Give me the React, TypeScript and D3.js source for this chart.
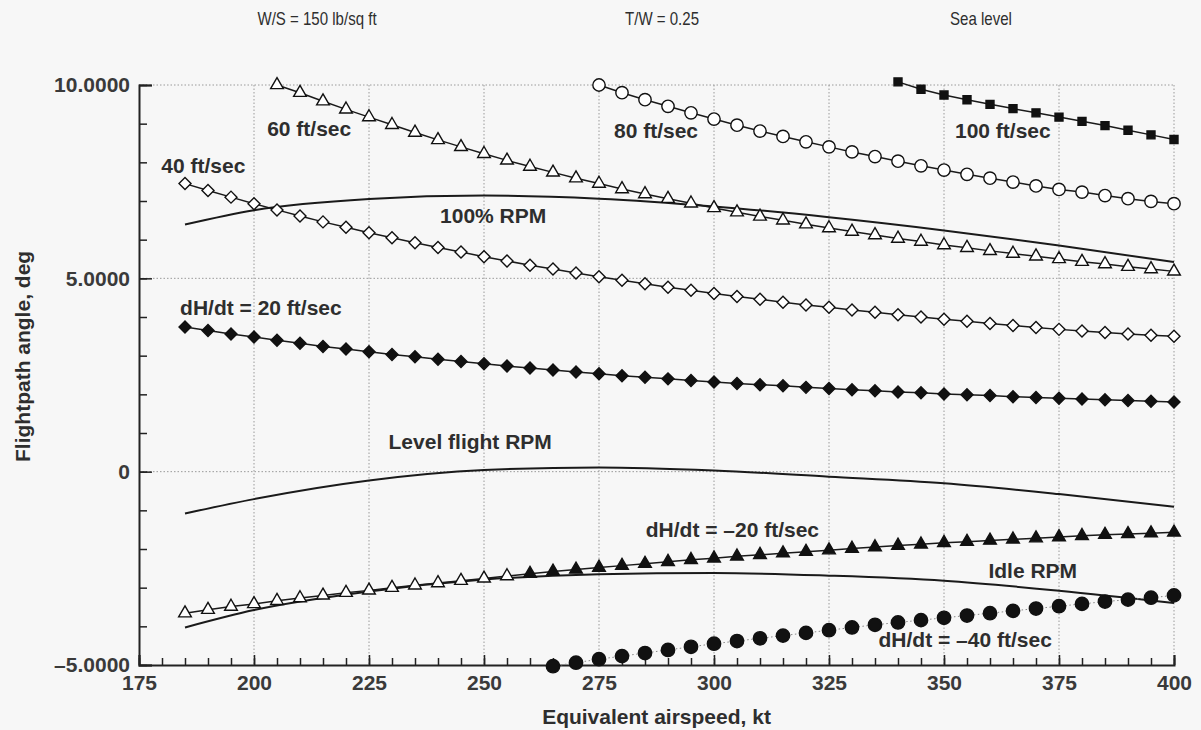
import React, { useEffect, useRef } from "react";
import * as d3 from "d3";

// flightpath angle (deg), one value every 5 kt
const climb100 = [10.08, 9.89, 9.74, 9.62, 9.5, 9.39, 9.28, 9.17, 9.06, 8.95, 8.83, 8.71, 8.59]; // 340..400
const climb80 = [
  10.0, 9.8, 9.62, 9.45, 9.28, 9.12, 8.96, 8.81, 8.67, 8.53, 8.4, 8.27, 8.15, 8.03, 7.91, 7.8, 7.69, 7.59,
  7.49, 7.39, 7.3, 7.23, 7.14, 7.06, 6.99, 6.93,
]; // 275..400
const climb60 = [
  10.0, 9.8, 9.58, 9.37, 9.17, 8.97, 8.77, 8.58, 8.4, 8.22, 8.05, 7.89, 7.74, 7.59, 7.45, 7.31, 7.18, 7.06,
  6.94, 6.82, 6.71, 6.6, 6.5, 6.4, 6.3, 6.21, 6.12, 6.03, 5.95, 5.86, 5.79, 5.71, 5.64, 5.57, 5.5, 5.43, 5.37,
  5.3, 5.24, 5.18,
]; // 205..400
const climb40 = [
  7.45, 7.27, 7.1, 6.93, 6.77, 6.61, 6.46, 6.32, 6.18, 6.05, 5.92, 5.8, 5.68, 5.56, 5.45, 5.34, 5.24, 5.14,
  5.04, 4.95, 4.86, 4.77, 4.69, 4.61, 4.53, 4.46, 4.38, 4.31, 4.25, 4.18, 4.12, 4.06, 4.0, 3.94, 3.89, 3.83,
  3.78, 3.73, 3.68, 3.64, 3.6, 3.56, 3.53, 3.5,
]; // 185..400
const climb20 = [
  3.74, 3.65, 3.56, 3.48, 3.4, 3.32, 3.24, 3.17, 3.1, 3.03, 2.97, 2.91, 2.85, 2.79, 2.73, 2.68, 2.63, 2.58,
  2.53, 2.48, 2.44, 2.4, 2.36, 2.32, 2.28, 2.25, 2.22, 2.18, 2.15, 2.12, 2.09, 2.06, 2.04, 2.01, 1.99, 1.97,
  1.94, 1.92, 1.9, 1.88, 1.86, 1.84, 1.82, 1.8,
]; // 185..400
const descent20 = [
  -3.66, -3.57, -3.49, -3.42, -3.34, -3.27, -3.2, -3.13, -3.07, -3.0, -2.94, -2.88, -2.82, -2.76, -2.7, -2.64,
  -2.58, -2.53, -2.48, -2.43, -2.38, -2.33, -2.28, -2.24, -2.19, -2.15, -2.11, -2.07, -2.03, -1.99, -1.95,
  -1.91, -1.88, -1.84, -1.81, -1.78, -1.75, -1.72, -1.69, -1.66, -1.63, -1.61, -1.59, -1.57,
]; // 185..400
const descent40 = [
  -5.03, -4.94, -4.85, -4.77, -4.69, -4.61, -4.53, -4.45, -4.38, -4.31, -4.24, -4.17, -4.1, -4.03, -3.96, -3.9,
  -3.84, -3.78, -3.72, -3.66, -3.6, -3.54, -3.48, -3.42, -3.36, -3.31, -3.26, -3.2,
]; // 265..400

// rpm curves
const curveSpeeds = [185, 200, 225, 250, 275, 300, 325, 350, 375, 400];
const rpmFull = [6.39, 6.76, 7.05, 7.14, 7.06, 6.86, 6.58, 6.24, 5.85, 5.42];
const rpmLevel = [-1.08, -0.71, -0.23, 0.04, 0.11, 0.03, -0.13, -0.3, -0.58, -0.91];
const rpmIdle = [-4.03, -3.58, -3.1, -2.79, -2.65, -2.62, -2.69, -2.82, -3.08, -3.4];

const xTicks = [175, 200, 225, 250, 275, 300, 325, 350, 375, 400];
const yTicks = [-5, 0, 5, 10];

const headers = ["W/S = 150 lb/sq ft", "T/W = 0.25", "Sea level"];

const FONT = "'Liberation Sans', Arial, Helvetica, sans-serif";
const INK = "#2e2e2e";

const App = () => {
  const ref = useRef<SVGSVGElement>(null);

  useEffect(() => {
    const svg = d3.select(ref.current);
    svg.selectAll("*").remove();

    const x = d3.scaleLinear().domain([175, 400]).range([139, 1174]);
    const y = d3.scaleLinear().domain([-5, 10]).range([665, 85]);

    svg.append("rect").attr("width", 1201).attr("height", 730).attr("fill", "#f7f7f7");

    // dotted grid
    const grid = svg.append("g").attr("stroke", "#9a9a9a").attr("stroke-width", 1).attr("stroke-dasharray", "1.5,2");
    grid
      .selectAll("line.v")
      .data(xTicks.slice(1))
      .join("line")
      .attr("x1", (d) => x(d))
      .attr("x2", (d) => x(d))
      .attr("y1", y(10))
      .attr("y2", y(-5));
    grid
      .selectAll("line.h")
      .data([0, 5, 10])
      .join("line")
      .attr("x1", x(175))
      .attr("x2", x(400))
      .attr("y1", (d) => y(d))
      .attr("y2", (d) => y(d));

    // axes, ticks point inward
    const fmt = (d: number) => (d === 0 ? "0" : d3.format(".4f")(d).replace("−", "–"));
    const yMinor = svg.append("g").attr("transform", `translate(${x(175)},0)`)
      .call(d3.axisLeft(y).tickValues(d3.range(-5, 11, 1)).tickSize(-8).tickFormat(() => ""));
    yMinor.select(".domain").remove();
    const yAxis = svg.append("g").attr("transform", `translate(${x(175)},0)`)
      .call(d3.axisLeft(y).tickValues(yTicks).tickSize(-13).tickPadding(9).tickFormat((d) => fmt(+d)));
    const xMinor = svg.append("g").attr("transform", `translate(0,${y(-5)})`)
      .call(d3.axisBottom(x).tickValues(d3.range(175, 401, 5)).tickSize(-7).tickFormat(() => ""));
    xMinor.select(".domain").remove();
    const xAxis = svg.append("g").attr("transform", `translate(0,${y(-5)})`)
      .call(d3.axisBottom(x).tickValues(xTicks).tickSize(-10).tickPadding(10).tickFormat(d3.format("d")));

    [yMinor, yAxis, xMinor, xAxis].forEach((g) => {
      g.selectAll("line").attr("stroke", "#222").attr("stroke-width", 1.5);
      g.select(".domain").attr("stroke", "#222").attr("stroke-width", 2);
      g.selectAll("text").attr("font-family", FONT).attr("font-size", 21).attr("font-weight", "bold").attr("fill", "#3a3a3a");
    });

    // rpm curves
    const curveLine = d3
      .line<number>()
      .x((_, i) => x(curveSpeeds[i]))
      .y((d) => y(d))
      .curve(d3.curveMonotoneX);
    [rpmFull, rpmLevel, rpmIdle].forEach((vals) => {
      svg.append("path").attr("d", curveLine(vals)).attr("fill", "none").attr("stroke", "#1a1a1a").attr("stroke-width", 2);
    });

    // rate-of-climb series
    type Series = { vals: number[]; start: number; sym: d3.SymbolType; size: number; fill: (kt: number) => string; rotate?: number; dotted?: boolean };
    const series: Series[] = [
      { vals: climb100, start: 340, sym: d3.symbolSquare, size: 64, fill: () => "#111" },
      { vals: climb80, start: 275, sym: d3.symbolCircle, size: 120, fill: () => "#fff" },
      { vals: climb60, start: 205, sym: d3.symbolTriangle, size: 70, fill: () => "#fff" },
      { vals: climb40, start: 185, sym: d3.symbolSquare, size: 72, fill: () => "#fff", rotate: 45 },
      { vals: climb20, start: 185, sym: d3.symbolSquare, size: 72, fill: () => "#111", rotate: 45 },
      { vals: descent20, start: 185, sym: d3.symbolTriangle, size: 70, fill: (kt) => (kt < 260 ? "#fff" : "#111") },
      { vals: descent40, start: 265, sym: d3.symbolCircle, size: 140, fill: () => "#111", dotted: true },
    ];

    series.forEach((s) => {
      const pts = s.vals.map((v, i) => ({ kt: s.start + i * 5, v }));
      const line = d3.line<{ kt: number; v: number }>().x((d) => x(d.kt)).y((d) => y(d.v));
      svg
        .append("path")
        .attr("d", line(pts))
        .attr("fill", "none")
        .attr("stroke", s.dotted ? "#888" : "#1a1a1a")
        .attr("stroke-width", s.dotted ? 1 : 1.5)
        .attr("stroke-dasharray", s.dotted ? "1.5,2.5" : null);
      svg
        .append("g")
        .selectAll("path")
        .data(pts)
        .join("path")
        .attr("d", d3.symbol().type(s.sym).size(s.size)())
        .attr("transform", (d) => `translate(${x(d.kt)},${y(d.v)}) rotate(${s.rotate ?? 0})`)
        .attr("fill", (d) => s.fill(d.kt))
        .attr("stroke", "#111")
        .attr("stroke-width", 1.4);
    });

    // curve labels
    const labels = [
      { t: "60 ft/sec", kt: 212, v: 8.88 },
      { t: "40 ft/sec", kt: 189, v: 7.93 },
      { t: "80 ft/sec", kt: 287.4, v: 8.83 },
      { t: "100 ft/sec", kt: 362.8, v: 8.83 },
      { t: "100% RPM", kt: 252, v: 6.63 },
      { t: "dH/dt = 20 ft/sec", kt: 201.5, v: 4.26 },
      { t: "Level flight RPM", kt: 247, v: 0.78 },
      { t: "dH/dt = –20 ft/sec", kt: 304, v: -1.49 },
      { t: "Idle RPM", kt: 369.3, v: -2.56 },
      { t: "dH/dt = –40 ft/sec", kt: 354.6, v: -4.33 },
    ];
    svg
      .append("g")
      .selectAll("text")
      .data(labels)
      .join("text")
      .attr("x", (d) => x(d.kt))
      .attr("y", (d) => y(d.v))
      .attr("dy", "0.36em")
      .attr("text-anchor", "middle")
      .attr("font-family", FONT)
      .attr("font-size", 21)
      .attr("font-weight", "bold")
      .attr("fill", INK)
      .text((d) => d.t);

    // header, squeezed horizontally to mimic a narrow face
    svg
      .append("g")
      .selectAll("text")
      .data(headers)
      .join("text")
      .attr("transform", (_, i) => `translate(${[317, 662, 981][i]},25) scale(0.86,1)`)
      .attr("text-anchor", "middle")
      .attr("font-family", FONT)
      .attr("font-size", 17.5)
      .attr("fill", INK)
      .text((d) => d);

    // axis titles
    svg
      .append("text")
      .attr("x", (x(175) + x(400)) / 2)
      .attr("y", 724)
      .attr("text-anchor", "middle")
      .attr("font-family", FONT)
      .attr("font-size", 21)
      .attr("font-weight", "bold")
      .attr("fill", INK)
      .text("Equivalent airspeed, kt");
    svg
      .append("text")
      .attr("transform", `translate(30,${y(2.98)}) rotate(-90)`)
      .attr("text-anchor", "middle")
      .attr("font-family", FONT)
      .attr("font-size", 21)
      .attr("font-weight", "bold")
      .attr("fill", INK)
      .text("Flightpath angle, deg");
  }, []);

  return (
    <svg
      ref={ref}
      width={1201}
      height={730}
      style={{ position: "absolute", left: 0, top: 0, display: "block" }}
    />
  );
};

export default App;
